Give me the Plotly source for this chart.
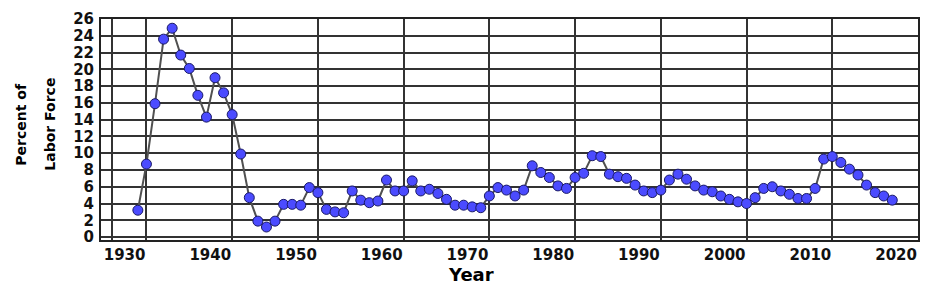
import plotly.graph_objects as go

years = list(range(1929, 2018))
unemployment = [
    3.2, 8.7, 15.9, 23.6, 24.9, 21.7, 20.1, 16.9, 14.3, 19.0,  # 1929-1938
    17.2, 14.6, 9.9, 4.7, 1.9, 1.2, 1.9, 3.9, 3.9, 3.8,         # 1939-1948
    5.9, 5.3, 3.3, 3.0, 2.9, 5.5, 4.4, 4.1, 4.3, 6.8,           # 1949-1958
    5.5, 5.5, 6.7, 5.5, 5.7, 5.2, 4.5, 3.8, 3.8, 3.6,           # 1959-1968
    3.5, 4.9, 5.9, 5.6, 4.9, 5.6, 8.5, 7.7, 7.1, 6.1,           # 1969-1978
    5.8, 7.1, 7.6, 9.7, 9.6, 7.5, 7.2, 7.0, 6.2, 5.5,           # 1979-1988
    5.3, 5.6, 6.8, 7.5, 6.9, 6.1, 5.6, 5.4, 4.9, 4.5,           # 1989-1998
    4.2, 4.0, 4.7, 5.8, 6.0, 5.5, 5.1, 4.6, 4.6, 5.8,           # 1999-2008
    9.3, 9.6, 8.9, 8.1, 7.4, 6.2, 5.3, 4.9, 4.4,                # 2009-2017
]

x_tickvals = [1926, 1930, 1940, 1950, 1960, 1970, 1980, 1990, 2000, 2010, 2020]
x_ticktext = ["", "1930", "1940", "1950", "1960", "1970", "1980", "1990", "2000", "2010", "2020"]
y_tickvals = list(range(0, 27, 2))

font_family = "DejaVu Sans"

fig = go.Figure()
fig.add_trace(go.Scatter(
    x=years, y=unemployment,
    mode="lines+markers",
    line=dict(color="#505050", width=2),
    marker=dict(symbol="circle", size=10, color="#4b4bff",
                line=dict(color="#1a1a66", width=1)),
    showlegend=False,
))

fig.update_layout(
    width=933, height=291,
    margin=dict(l=101, r=15, t=10, b=51),
    paper_bgcolor="white",
    plot_bgcolor="white",
    font=dict(family=font_family, color="black"),
    xaxis=dict(
        range=[1924.7, 2020],
        tickmode="array", tickvals=x_tickvals, ticktext=x_ticktext,
        ticklabelposition="outside left",
        tickfont=dict(family=font_family, size=15, color="#111111", weight="bold"),
        showgrid=True, gridcolor="#333333", gridwidth=2,
        showline=True, linecolor="#222222", linewidth=2, mirror=True,
        ticks="", zeroline=False,
    ),
    yaxis=dict(
        range=[-0.35, 26],
        tickmode="array", tickvals=y_tickvals,
        tickfont=dict(family=font_family, size=15, color="#111111", weight="bold"),
        showgrid=True, gridcolor="#333333", gridwidth=2,
        showline=True, linecolor="#222222", linewidth=2, mirror=True,
        ticks="", zeroline=False, ticklabelstandoff=2,
    ),
    annotations=[
        dict(text="<b>Year</b>", xref="paper", yref="paper",
             x=(471 - 101) / 817, y=-(276 - 240) / 230,
             xanchor="center", yanchor="middle", showarrow=False,
             font=dict(family=font_family, size=18, color="black")),
        dict(text="<b>Percent of</b>", xref="paper", yref="paper",
             x=-(101 - 21) / 817, y=1 - (120 - 10) / 230,
             xanchor="center", yanchor="middle", showarrow=False, textangle=-90,
             font=dict(family=font_family, size=14, color="black")),
        dict(text="<b>Labor Force</b>", xref="paper", yref="paper",
             x=-(101 - 50) / 817, y=1 - (120 - 10) / 230,
             xanchor="center", yanchor="middle", showarrow=False, textangle=-90,
             font=dict(family=font_family, size=14, color="black")),
    ],
)

fig.write_html("out.html")
